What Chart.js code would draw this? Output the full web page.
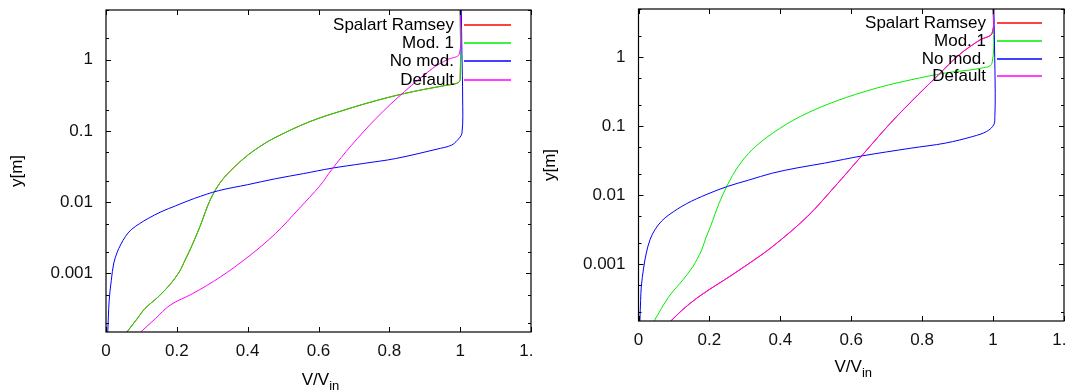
<!DOCTYPE html>
<html>
<head>
<meta charset="utf-8">
<script src="https://cdn.jsdelivr.net/npm/chart.js@4/dist/chart.umd.min.js"></script>
<style>
  body { margin: 0; background: #fff; width: 1073px; height: 392px; overflow: hidden; position: relative; }
  .panel { position: absolute; top: 0; height: 392px; overflow: hidden; }
  canvas { display: block; }
</style>
</head>
<body>
<div class="panel" style="left:0;width:534px"><canvas id="left" width="570" height="392"></canvas></div>
<div class="panel" style="left:532px;width:534px"><canvas id="right" width="570" height="392"></canvas></div>
<script>
const seriesNames = ['Spalart Ramsey', 'Mod. 1', 'No mod.', 'Default'];
const seriesColors = ['#ff0000', '#00ee00', '#0000ff', '#ff00ff'];
const xTitle = 'V/V';
const xTitleSub = 'in';
const yTitle = 'y[m]';
const yTickValues = [2e-4, 5e-4, 0.001, 0.002, 0.005, 0.01, 0.02, 0.05, 0.1, 0.2, 0.5, 1, 2, 5];

// left panel (Spalart Ramsey lies under Mod. 1)
const leftModX = [0.059, 0.085, 0.110, 0.148, 0.180, 0.207, 0.225, 0.241, 0.265, 0.294, 0.323, 0.362, 0.401, 0.44, 0.478, 0.575, 0.672, 0.769, 0.866, 0.963, 0.992, 1.0, 1.0];
const leftModY = [1.5e-4, 2.2e-4, 3.2e-4, 4.7e-4, 6.9e-4, 1.05e-3, 1.6e-3, 2.35e-3, 4.5e-3, 0.0107, 0.019, 0.031, 0.046, 0.063, 0.081, 0.135, 0.196, 0.272, 0.356, 0.44, 0.47, 0.53, 6];
const leftSrX = leftModX;
const leftSrY = leftModY;
const leftNoModX = [0.005, 0.009, 0.015, 0.022, 0.032, 0.041, 0.055, 0.071, 0.095, 0.119, 0.155, 0.197, 0.25, 0.318, 0.40, 0.478, 0.558, 0.638, 0.728, 0.818, 0.944, 0.975, 0.992, 1.005, 1.007, 1.005, 1.003];
const leftNoModY = [1.5e-4, 4.2e-4, 8e-4, 1.4e-3, 2e-3, 2.5e-3, 3.3e-3, 4.1e-3, 5e-3, 5.9e-3, 7.3e-3, 8.9e-3, 0.0113, 0.0145, 0.0176, 0.0213, 0.0252, 0.030, 0.035, 0.041, 0.057, 0.063, 0.074, 0.093, 0.3, 1.2, 6];
const leftDefX = [0.098, 0.139, 0.182, 0.245, 0.323, 0.401, 0.478, 0.546, 0.604, 0.638, 0.692, 0.763, 0.843, 0.923, 0.963, 0.998, 1.0];
const leftDefY = [1.5e-4, 2.3e-4, 3.6e-4, 5.2e-4, 8.9e-4, 1.7e-3, 3.6e-3, 8.2e-3, 0.017, 0.029, 0.062, 0.151, 0.358, 0.764, 1.0, 1.22, 6];

// right panel (Spalart Ramsey lies under Default)
const rightModX = [0.044, 0.086, 0.125, 0.154, 0.166, 0.178, 0.19, 0.203, 0.215, 0.227, 0.251, 0.281, 0.320, 0.378, 0.456, 0.554, 0.671, 0.768, 0.865, 0.963, 0.997, 1.0];
const rightModY = [1.5e-4, 3.4e-4, 5.9e-4, 9.3e-4, 1.2e-3, 1.6e-3, 2.4e-3, 3.5e-3, 5.2e-3, 7.6e-3, 0.0141, 0.026, 0.0454, 0.079, 0.138, 0.228, 0.356, 0.47, 0.59, 0.69, 0.82, 6];
const rightNoModX = [0.004, 0.006, 0.008, 0.014, 0.022, 0.033, 0.047, 0.065, 0.086, 0.135, 0.193, 0.251, 0.31, 0.378, 0.45, 0.524, 0.632, 0.768, 0.865, 0.943, 0.982, 1.002, 1.005, 1.006, 1.004, 1.002];
const rightNoModY = [1.5e-4, 3e-4, 4.8e-4, 8.5e-4, 1.45e-3, 2.3e-3, 3.2e-3, 4.2e-3, 5.2e-3, 7.5e-3, 0.0103, 0.0134, 0.0165, 0.0209, 0.025, 0.0291, 0.0372, 0.048, 0.0568, 0.071, 0.084, 0.105, 0.138, 0.3, 1.5, 6];
const rightDefX = [0.091, 0.125, 0.164, 0.2, 0.242, 0.300, 0.378, 0.476, 0.554, 0.632, 0.710, 0.788, 0.846, 0.904, 0.963, 0.997, 1.0];
const rightDefY = [1.5e-4, 2.2e-4, 3.2e-4, 4.3e-4, 5.9e-4, 9.3e-4, 1.8e-3, 4.9e-3, 0.0134, 0.0385, 0.110, 0.284, 0.555, 1.08, 1.78, 2.22, 6];
const rightSrX = rightDefX;
const rightSrY = rightDefY;

const FONT = '"Liberation Sans", Arial, sans-serif';
const FS = 17;

function pts(xs, ys) {
  return xs.map((x, i) => ({ x: x, y: ys[i] }));
}

function isDecade(v) {
  const l = Math.log10(v);
  return Math.abs(l - Math.round(l)) < 1e-9;
}

// gnuplot style frame, inward ticks, key and axis titles
const gnuplotLook = {
  id: 'gnuplotLook',
  afterDatasetsDraw(chart, args, opts) {
    const ctx = chart.ctx;
    const a = chart.chartArea;
    const xs = chart.scales.x, ys = chart.scales.y;
    ctx.save();
    ctx.strokeStyle = '#000';
    ctx.lineWidth = 1.2;
    ctx.strokeRect(a.left, a.top, a.right - a.left, a.bottom - a.top);
    ctx.lineWidth = 1;
    ctx.beginPath();
    xs.ticks.forEach(t => {
      const px = Math.round(xs.getPixelForValue(t.value)) + 0.5;
      ctx.moveTo(px, a.bottom); ctx.lineTo(px, a.bottom - 5);
      ctx.moveTo(px, a.top); ctx.lineTo(px, a.top + 5);
    });
    ys.ticks.forEach(t => {
      const py = Math.round(ys.getPixelForValue(t.value)) + 0.5;
      const len = isDecade(t.value) ? 5 : 3;
      ctx.moveTo(a.left, py); ctx.lineTo(a.left + len, py);
      ctx.moveTo(a.right, py); ctx.lineTo(a.right - len, py);
    });
    ctx.stroke();

    // key
    ctx.font = FS + 'px ' + FONT;
    ctx.fillStyle = '#000';
    ctx.textAlign = 'right';
    ctx.textBaseline = 'middle';
    seriesNames.forEach((name, i) => {
      const yy = Math.round(a.top + opts.keyTop + i * opts.keyStep);
      ctx.fillText(name, a.right - opts.keyText, yy);
      ctx.strokeStyle = seriesColors[i];
      ctx.lineWidth = 1.4;
      ctx.beginPath();
      ctx.moveTo(a.right - opts.keyLine0, yy);
      ctx.lineTo(a.right - opts.keyLine1, yy);
      ctx.stroke();
    });

    // x title with subscript
    ctx.fillStyle = '#000';
    ctx.textAlign = 'left';
    ctx.textBaseline = 'alphabetic';
    ctx.font = FS + 'px ' + FONT;
    const w1 = ctx.measureText(xTitle).width;
    ctx.font = '13px ' + FONT;
    const w2 = ctx.measureText(xTitleSub).width;
    const cx = (a.left + a.right) / 2 + 2;
    const bx = cx - (w1 + w2) / 2;
    const by = a.bottom + opts.xTitleDy;
    ctx.font = FS + 'px ' + FONT;
    ctx.fillText(xTitle, bx, by);
    ctx.font = '13px ' + FONT;
    ctx.fillText(xTitleSub, bx + w1, by + 5);

    // y title
    ctx.font = FS + 'px ' + FONT;
    ctx.textAlign = 'center';
    ctx.textBaseline = 'middle';
    ctx.translate(opts.yTitleX, (a.top + a.bottom) / 2);
    ctx.rotate(-Math.PI / 2);
    ctx.fillText(yTitle, 0, 0);
    ctx.restore();
  }
};

function makeChart(id, sets, lay) {
  const datasets = sets.map((s, i) => ({
    label: seriesNames[i],
    data: pts(s[0], s[1]),
    borderColor: seriesColors[i],
    borderWidth: 1,
    pointRadius: 0,
    fill: false,
    tension: 0.35,
    order: sets.length - i
  }));
  const ctx = document.getElementById(id).getContext('2d');
  return new Chart(ctx, {
    type: 'line',
    data: { datasets: datasets },
    options: {
      responsive: false,
      animation: false,
      events: [],
      layout: { padding: { top: lay.top, right: lay.right, left: 0, bottom: 0 } },
      scales: {
        x: {
          type: 'linear',
          min: 0,
          max: 1.2,
          grid: { display: false },
          border: { display: false },
          ticks: {
            stepSize: 0.2,
            autoSkip: false,
            maxRotation: 0,
            padding: 1.5,
            color: '#111',
            font: { family: FONT, size: FS },
            callback: v => String(Math.round(v * 10) / 10)
          },
          afterFit: s => { s.height = lay.xh; s.paddingLeft = 0; s.paddingRight = 0; }
        },
        y: {
          type: 'logarithmic',
          min: 1.5e-4,
          max: 5,
          grid: { display: false },
          border: { display: false },
          afterBuildTicks: s => { s.ticks = yTickValues.map(v => ({ value: v })); },
          ticks: {
            autoSkip: false,
            padding: 5,
            color: '#111',
            font: { family: FONT, size: FS },
            callback: v => isDecade(v) ? String(v) : ''
          },
          afterFit: s => { s.width = lay.yw; s.paddingTop = 0; s.paddingBottom = 0; }
        }
      },
      plugins: {
        legend: { display: false },
        tooltip: { enabled: false },
        gnuplotLook: lay.look
      }
    },
    plugins: [gnuplotLook]
  });
}

makeChart('left', [
  [leftSrX, leftSrY],
  [leftModX, leftModY],
  [leftNoModX, leftNoModY],
  [leftDefX, leftDefY]
], {
  top: 10, right: 39, xh: 60, yw: 106,
  look: { keyTop: 15, keyStep: 18.2, keyText: 77, keyLine0: 67, keyLine1: 20, xTitleDy: 53, yTitleX: 17 }
});

makeChart('right', [
  [rightSrX, rightSrY],
  [rightModX, rightModY],
  [rightNoModX, rightNoModY],
  [rightDefX, rightDefY]
], {
  top: 9, right: 38, xh: 71, yw: 106.5,
  look: { keyTop: 14, keyStep: 17.8, keyText: 78, keyLine0: 67, keyLine1: 22, xTitleDy: 51, yTitleX: 18 }
});
</script>
</body>
</html>
